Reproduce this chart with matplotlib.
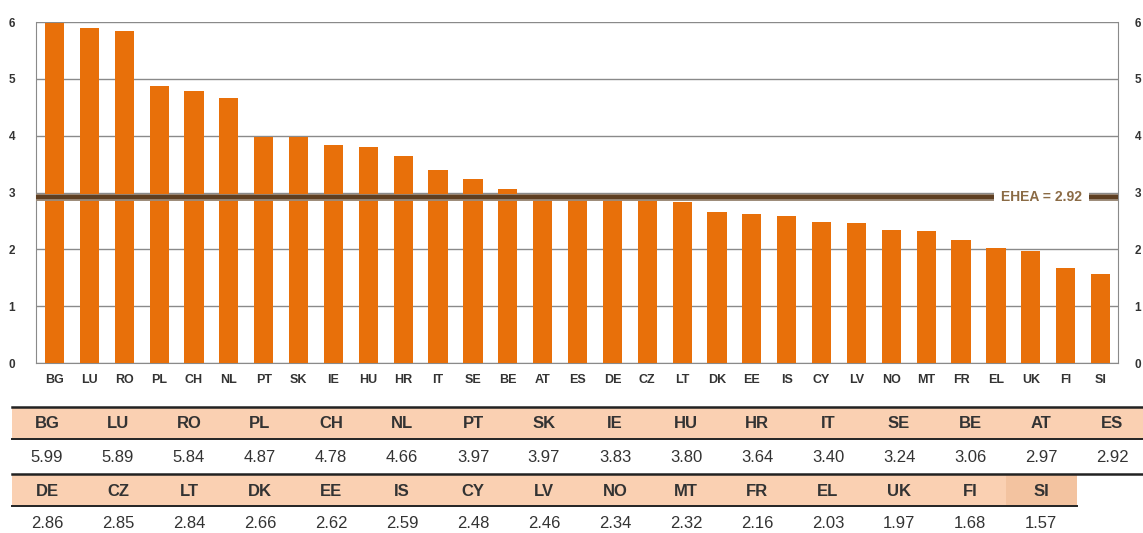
import matplotlib.pyplot as plt
from matplotlib.patches import Rectangle

plt.rcParams['font.family'] = ['Liberation Sans', 'DejaVu Sans']

# Data
countries = ['BG', 'LU', 'RO', 'PL', 'CH', 'NL', 'PT', 'SK', 'IE', 'HU', 'HR',
             'IT', 'SE', 'BE', 'AT', 'ES', 'DE', 'CZ', 'LT', 'DK', 'EE', 'IS',
             'CY', 'LV', 'NO', 'MT', 'FR', 'EL', 'UK', 'FI', 'SI']
values = [5.99, 5.89, 5.84, 4.87, 4.78, 4.66, 3.97, 3.97, 3.83, 3.80, 3.64,
          3.40, 3.24, 3.06, 2.97, 2.92, 2.86, 2.85, 2.84, 2.66, 2.62, 2.59,
          2.48, 2.46, 2.34, 2.32, 2.16, 2.03, 1.97, 1.68, 1.57]
ehea = 2.92
yticks = [0, 1, 2, 3, 4, 5, 6]

bar_color = '#E8700A'
head_color = '#FAD0B2'

fig = plt.figure(figsize=(11.43, 5.33), dpi=100)
ax = fig.add_axes([36 / 1143, 1 - 363 / 533, (1118 - 36) / 1143, (363 - 22) / 533])

x = range(len(countries))
ax.bar(x, values, width=0.55, color=bar_color, zorder=3)
ax.set_xlim(-0.53, len(countries) - 0.5)
ax.set_ylim(0, 6)
ax.set_yticks(yticks)
ax.set_xticks(list(x))
ax.set_xticklabels(countries)
ax.grid(axis='y', color='#8a8a8a', lw=1, zorder=1)
ax.tick_params(axis='both', length=0, labelsize=9, colors='#333333')
ax.tick_params(axis='y', labelsize=8.5, pad=15)
ax.tick_params(axis='x', pad=8)
for t in ax.get_xticklabels() + ax.get_yticklabels():
    t.set_fontweight('bold')
for s in ['left', 'right', 'bottom']:
    ax.spines[s].set_color('#8a8a8a')
ax.spines['top'].set_visible(False)

# right-hand copy of the y axis labels
ax2 = ax.twinx()
ax2.set_ylim(0, 6)
ax2.set_yticks(yticks)
ax2.tick_params(axis='y', length=0, labelsize=8.5, colors='#333333', pad=12)
for t in ax2.get_yticklabels():
    t.set_fontweight('bold')
for s in ax2.spines.values():
    s.set_visible(False)

# EHEA average line
ax.axhline(ehea, color='#9c8a78', lw=5, zorder=4)
ax.axhline(ehea, color='#5e3f22', lw=3, zorder=5)
ax.text(28.3, ehea, 'EHEA = 2.92', color='#8B6B45', fontsize=10, fontweight='bold',
        ha='center', va='center', zorder=6,
        bbox=dict(facecolor='white', edgecolor='none', pad=5))

# Table underneath, in pixel coordinates
tab = fig.add_axes([0, 0, 1, 1])
tab.set_xlim(0, 1143)
tab.set_ylim(533, 0)
tab.axis('off')
tab.patch.set_alpha(0)

col_w = 71
left = 11.5
rows = [(countries[:16], values[:16], 407), (countries[16:], values[16:], 474)]
for names, vals, top in rows:
    n = len(names)
    right = left + n * col_w
    tab.add_patch(Rectangle((left, top), right - left, 31, color=head_color, lw=0))
    if n < 16:
        tab.add_patch(Rectangle((left + (n - 1) * col_w, top), col_w, 31,
                                color='#F3C3A0', lw=0))
    tab.plot([left, 1143], [top, top], color='#222222', lw=1.8)
    tab.plot([left, right if n < 16 else 1143], [top + 32, top + 32], color='#222222', lw=1.4)
    for i, (nm, v) in enumerate(zip(names, vals)):
        cx = left + col_w * (i + 0.5)
        tab.text(cx, top + 17, nm, ha='center', va='center', fontsize=12,
                 fontweight='bold', color='#333333')
        tab.text(cx, top + 50, f'{v:.2f}', ha='center', va='center', fontsize=12,
                 color='#333333')

fig.savefig('out.png', dpi=100)
